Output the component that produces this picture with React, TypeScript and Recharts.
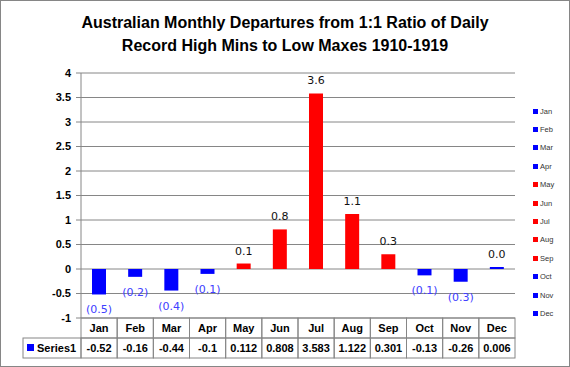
import React from 'react';
import { BarChart, Bar, XAxis, YAxis, CartesianGrid, Cell, LabelList } from 'recharts';

const months = ['Jan', 'Feb', 'Mar', 'Apr', 'May', 'Jun', 'Jul', 'Aug', 'Sep', 'Oct', 'Nov', 'Dec'];
const values = [-0.52, -0.16, -0.44, -0.1, 0.112, 0.808, 3.583, 1.122, 0.301, -0.13, -0.26, 0.006];
const barColors = ['#0000FF', '#0000FF', '#0000FF', '#0000FF', '#FF0000', '#FF0000', '#FF0000', '#FF0000', '#FF0000', '#0000FF', '#0000FF', '#0000FF'];
const yTicks = [-1, -0.5, 0, 0.5, 1, 1.5, 2, 2.5, 3, 3.5, 4];
const seriesName = 'Series1';
const titleLines = ['Australian Monthly Departures from 1:1 Ratio of Daily', 'Record High Mins to Low Maxes 1910-1919'];

const data = months.map((m, i) => ({ month: m, value: values[i], color: barColors[i] }));

const W = 570;
const H = 367;
const M = { top: 73, right: 55, left: 0, bottom: 9 };
const Y_W = 81;
const X_H = 40;
const plotW = W - M.left - M.right - Y_W;
const bw = plotW / months.length;
const GRID = '#868686';
const FONT = '"Liberation Sans", Arial, sans-serif';
const LABEL_FONT = '"DejaVu Sans", Verdana, sans-serif';

const TableTick = (props: any) => {
  const { x, y, payload, index } = props;
  const i = index ?? payload.index;
  const left = x - bw / 2;
  const rowH = 20;
  return (
    <g>
      <rect x={left} y={y} width={bw} height={rowH} fill="none" stroke={GRID} />
      <rect x={left} y={y + rowH} width={bw} height={rowH} fill="none" stroke={GRID} />
      <text x={x} y={y + 14} textAnchor="middle" fontFamily={FONT} fontWeight="bold" fontSize={11} fill="#000">
        {payload.value}
      </text>
      <text x={x} y={y + rowH + 14} textAnchor="middle" fontFamily={FONT} fontWeight="bold" fontSize={11} fill="#000">
        {String(values[i])}
      </text>
      {i === 0 && (
        <g>
          <rect x={23} y={y + rowH} width={left - 23} height={rowH} fill="none" stroke={GRID} />
          <rect x={27} y={y + rowH + 6} width={7} height={7} fill={barColors[0]} />
          <text x={37} y={y + rowH + 14} fontFamily={FONT} fontWeight="bold" fontSize={11} fill="#000">
            {seriesName}
          </text>
        </g>
      )}
    </g>
  );
};

const DataLabel = (props: any) => {
  const { x, y, width, height, value } = props;
  const cx = x + width / 2;
  const top = Math.min(y, y + height);
  const bottom = Math.max(y, y + height);
  if (value < 0) {
    return (
      <text x={cx} y={bottom + 19} textAnchor="middle" fontFamily={LABEL_FONT} fontSize={11} fill="#4040FF">
        {`(${Math.abs(value).toFixed(1)})`}
      </text>
    );
  }
  return (
    <text x={cx} y={top - 9} textAnchor="middle" fontFamily={LABEL_FONT} fontSize={11} fill="#111">
      {value.toFixed(1)}
    </text>
  );
};

export default function App() {
  return (
    <div style={{ position: 'absolute', left: 0, top: 0, width: W, height: H, background: '#fff' }}>
      <div
        style={{
          position: 'absolute',
          left: 0,
          top: 0,
          width: W,
          height: H,
          boxSizing: 'border-box',
          border: `1px solid ${GRID}`,
          pointerEvents: 'none',
          zIndex: 2,
        }}
      />
      <div
        style={{
          position: 'absolute',
          left: 0,
          top: 11,
          width: W,
          textAlign: 'center',
          fontFamily: FONT,
          fontWeight: 'bold',
          fontSize: 16,
          lineHeight: '23px',
          color: '#000',
        }}
      >
        {titleLines.map((t) => (
          <div key={t}>{t}</div>
        ))}
      </div>
      <BarChart width={W} height={H} data={data} margin={M} barSize={14}>
        <CartesianGrid vertical={false} stroke={GRID} />
        <XAxis
          dataKey="month"
          height={X_H}
          axisLine={false}
          tickLine={false}
          tickSize={0}
          tickMargin={0}
          interval={0}
          tick={<TableTick />}
        />
        <YAxis
          width={Y_W}
          domain={[-1, 4]}
          ticks={yTicks}
          interval={0}
          allowDataOverflow
          axisLine={{ stroke: GRID }}
          tickLine={{ stroke: GRID }}
          tickSize={5}
          tickMargin={5}
          tick={{ fontFamily: FONT, fontWeight: 'bold', fontSize: 11, fill: '#000' }}
        />
        <Bar dataKey="value" isAnimationActive={false} minPointSize={2}>
          {data.map((d) => (
            <Cell key={d.month} fill={d.color} />
          ))}
          <LabelList dataKey="value" content={<DataLabel />} />
        </Bar>
      </BarChart>
      <div style={{ position: 'absolute', left: 533, top: 102, fontFamily: FONT, fontSize: 7.5, color: '#333' }}>
        {months.map((m, i) => (
          <div key={m} style={{ height: 18.4, display: 'flex', alignItems: 'center' }}>
            <span style={{ display: 'inline-block', width: 5, height: 5, background: barColors[i], marginRight: 2 }} />
            <span>{m}</span>
          </div>
        ))}
      </div>
    </div>
  );
}
